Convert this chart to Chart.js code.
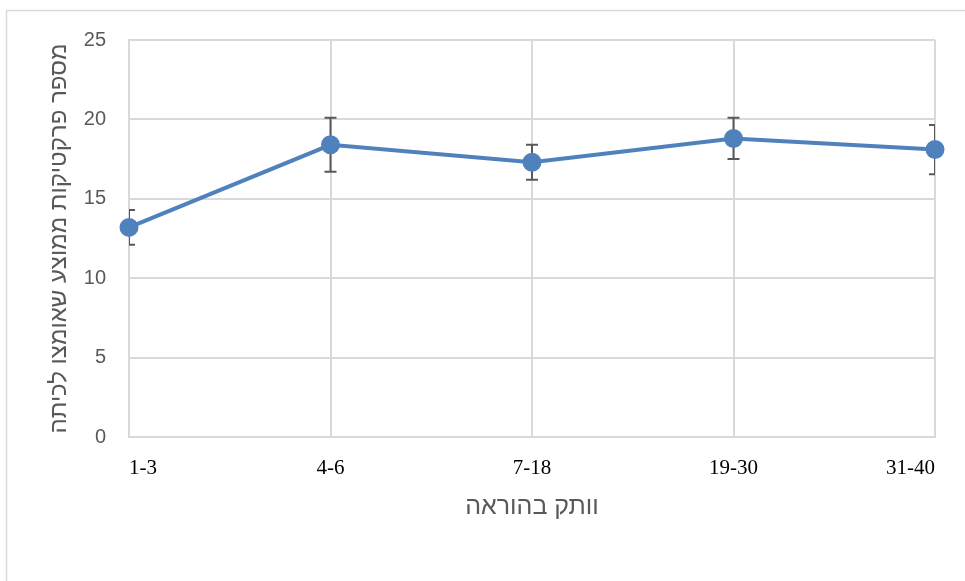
<!DOCTYPE html>
<html>
<head>
<meta charset="utf-8">
<script src="https://cdn.jsdelivr.net/npm/chart.js@4.4.1/dist/chart.umd.min.js"></script>
<style>
  html, body { margin: 0; padding: 0; background: #ffffff; }
  #wrap { position: relative; width: 965px; height: 581px; }
</style>
</head>
<body>
<div id="wrap"><canvas id="chart" width="965" height="581"></canvas></div>
<script>
// Teaching seniority groups (years)
const categories = ['1-3', '4-6', '7-18', '19-30', '31-40'];
// Mean number of practices adopted in class
const meanValues = [13.2, 18.4, 17.3, 18.8, 18.1];
// Error bar half-widths
const errorValues = [1.1, 1.7, 1.1, 1.3, 1.55];
// Y axis range
const yMin = 0, yMax = 25, yStep = 5;

const GRID = '#d9d9d9';
const TEXT = '#595959';
const BLUE = '#4f81bd';

// Light frame around the chart area of the page
const framePlugin = {
  id: 'frame',
  beforeDraw(chart) {
    const ctx = chart.ctx;
    ctx.save();
    ctx.strokeStyle = GRID;
    ctx.lineWidth = 1.5;
    ctx.beginPath();
    ctx.moveTo(6.5, chart.height + 2);
    ctx.lineTo(6.5, 10.5);
    ctx.lineTo(chart.width + 2, 10.5);
    ctx.stroke();
    ctx.restore();
  }
};

// Vertical error bars with caps, computed through the y scale
const errorBarPlugin = {
  id: 'errorBars',
  beforeDatasetsDraw(chart) {
    const ctx = chart.ctx;
    const yScale = chart.scales.y;
    const meta = chart.getDatasetMeta(0);
    const area = chart.chartArea;
    ctx.save();
    ctx.beginPath();
    ctx.rect(area.left, area.top - 10, area.right - area.left, area.bottom - area.top + 20);
    ctx.clip();
    ctx.strokeStyle = '#595959';
    ctx.lineWidth = 2;
    const cap = 6;
    meta.data.forEach((pt, i) => {
      const x = pt.x;
      const yTop = yScale.getPixelForValue(meanValues[i] + errorValues[i]);
      const yBot = yScale.getPixelForValue(meanValues[i] - errorValues[i]);
      ctx.beginPath();
      ctx.moveTo(x, yTop);
      ctx.lineTo(x, yBot);
      ctx.moveTo(x - cap, yTop);
      ctx.lineTo(x + cap, yTop);
      ctx.moveTo(x - cap, yBot);
      ctx.lineTo(x + cap, yBot);
      ctx.stroke();
    });
    ctx.restore();
  }
};

new Chart(document.getElementById('chart'), {
  type: 'line',
  data: {
    labels: categories,
    datasets: [{
      data: meanValues,
      borderColor: BLUE,
      backgroundColor: BLUE,
      borderWidth: 4,
      tension: 0,
      pointRadius: 7.5,
      pointHoverRadius: 7.5,
      pointBackgroundColor: BLUE,
      pointBorderColor: BLUE,
      clip: false
    }]
  },
  options: {
    responsive: false,
    animation: false,
    events: [],
    layout: { padding: { left: 33, top: 40, right: 30, bottom: 59 } },
    plugins: {
      legend: { display: false },
      tooltip: { enabled: false }
    },
    scales: {
      x: {
        type: 'category',
        offset: false,
        afterFit(scale) { scale.height = 85; },
        grid: { color: GRID, lineWidth: 2, drawTicks: false },
        border: { display: true, color: GRID, width: 2 },
        ticks: {
          align: 'inner',
          padding: 19,
          maxRotation: 0,
          autoSkip: false,
          color: '#000000',
          font: { family: '"Liberation Serif", "Times New Roman", serif', size: 21 }
        },
        title: {
          display: true,
          text: 'וותק בהוראה',
          color: TEXT,
          padding: { top: 0, bottom: 0 },
          font: { family: '"Liberation Sans", Arial, sans-serif', size: 25 }
        }
      },
      y: {
        min: yMin,
        max: yMax,
        afterFit(scale) { scale.width = 129 - 33; },
        grid: { color: GRID, lineWidth: 2, drawTicks: false },
        border: { display: true, color: GRID, width: 2 },
        ticks: {
          stepSize: yStep,
          padding: 23,
          color: TEXT,
          font: { family: '"Liberation Sans", Arial, sans-serif', size: 20 }
        },
        title: {
          display: true,
          text: 'מספר פרקטיקות ממוצע שאומצו לכיתה',
          color: TEXT,
          padding: { top: 12, bottom: 0 },
          font: { family: '"Liberation Sans", Arial, sans-serif', size: 24 }
        }
      }
    }
  },
  plugins: [framePlugin, errorBarPlugin]
});
</script>
</body>
</html>
